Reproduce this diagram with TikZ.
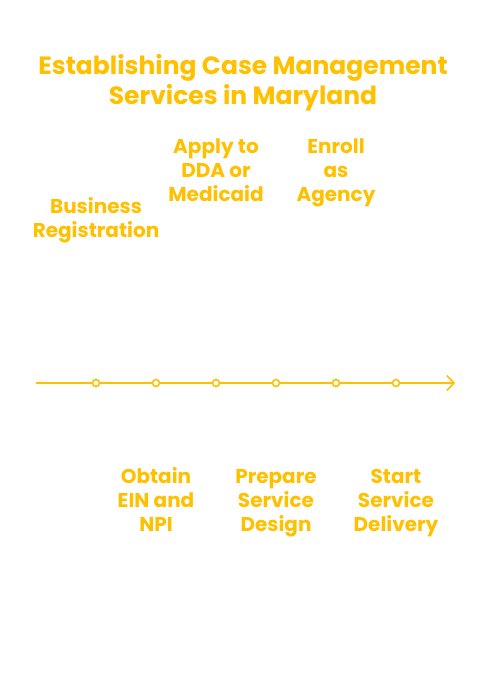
\documentclass[tikz,border=0pt]{standalone}
\usepackage{fontspec}
\setmainfont{Poppins}
\usepackage{tikz}
\usetikzlibrary{arrows.meta}
\definecolor{CFFC000}{HTML}{FFC000}
\definecolor{CFFFFFF}{HTML}{FFFFFF}

\begin{document}
\begin{tikzpicture}[inner sep=0pt,
  title/.style={anchor=base,align=center,text=CFFC000,font=\bfseries\fontsize{25}{30}\selectfont},
  step label/.style={anchor=base,align=center,text=CFFC000,font=\bfseries\fontsize{20}{24}\selectfont},
  dot/.style={minimum size=7pt,shape=circle,draw=CFFC000,fill=CFFFFFF,line width=1.6pt},
  axis/.style={draw=CFFC000,line width=1.6pt}]
\useasboundingbox[fill=CFFFFFF] (0pt,0pt) rectangle (486pt,-696pt);

\node (t0) [title,at={(243pt,-104pt)}] {Establishing Case Management\\Services in Maryland};

\coordinate (s) at (36pt,-383pt);
\coordinate (e) at (455pt,-383pt);
\node (p0) [dot,at={(96pt,-383pt)}] {};
\node (p1) [dot,at={(156pt,-383pt)}] {};
\node (p2) [dot,at={(216pt,-383pt)}] {};
\node (p3) [dot,at={(276pt,-383pt)}] {};
\node (p4) [dot,at={(336pt,-383pt)}] {};
\node (p5) [dot,at={(396pt,-383pt)}] {};

\path [axis](s)--(p0);
\path [axis](p0)--(p1);
\path [axis](p1)--(p2);
\path [axis](p2)--(p3);
\path [axis](p3)--(p4);
\path [axis](p4)--(p5);
\path [axis,-{Straight Barb[length=7pt,width=15pt]}](p5)--(e);

\node (l0) [step label,at={(96pt,-237pt)}] {Business\\Registration};
\node (l1) [step label,at={(156pt,-531pt)}] {Obtain\\EIN and\\NPI};
\node (l2) [step label,at={(216pt,-201pt)}] {Apply to\\DDA or\\Medicaid};
\node (l3) [step label,at={(276pt,-531pt)}] {Prepare\\Service\\Design};
\node (l4) [step label,at={(336pt,-201pt)}] {Enroll\\as\\Agency};
\node (l5) [step label,at={(396pt,-531pt)}] {Start\\Service\\Delivery};
\end{tikzpicture}
\end{document}
